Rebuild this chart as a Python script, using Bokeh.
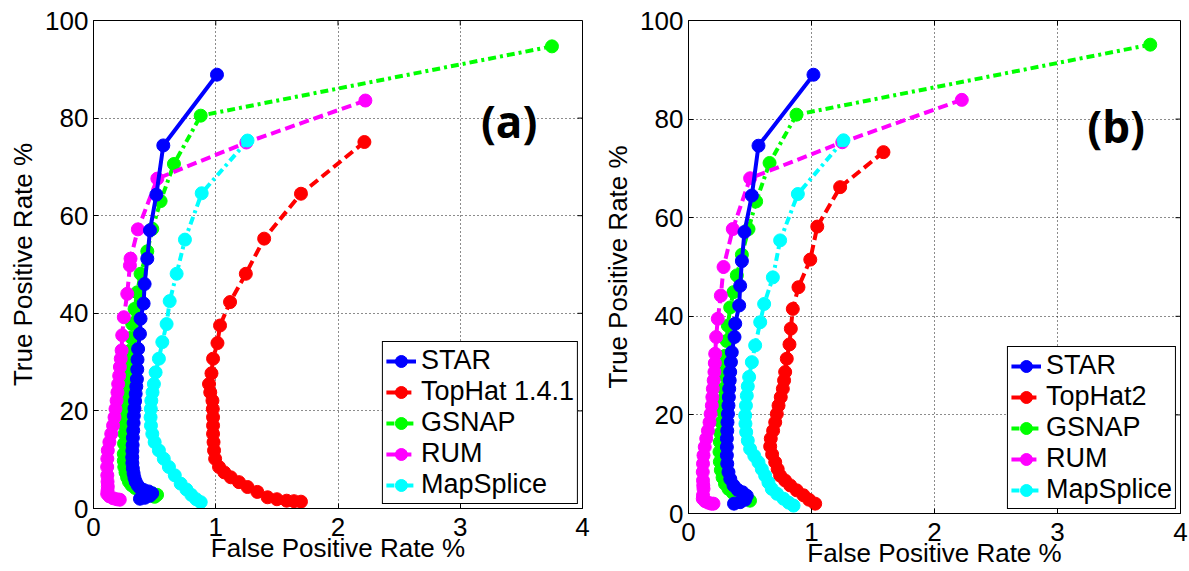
import numpy as np
from bokeh.plotting import figure
from bokeh.models import Label, Legend, LegendItem, FixedTicker, Range1d
from bokeh.layouts import row
from bokeh.embed import file_html
from bokeh.resources import INLINE

# ---------------- data ----------------
x_ticks = [0, 1, 2, 3, 4]
y_ticks = [0, 20, 40, 60, 80, 100]
series_names_a = ["STAR", "TopHat 1.4.1", "GSNAP", "RUM", "MapSplice"]
series_names_b = ["STAR", "TopHat2", "GSNAP", "RUM", "MapSplice"]

# Panel (a)
star_a_x = [1.01, 0.571, 0.514, 0.462, 0.44, 0.418, 0.41, 0.385, 0.38, 0.365, 0.36, 0.358, 0.355, 0.35, 0.345,
            0.34, 0.335, 0.33, 0.328, 0.325, 0.322, 0.32, 0.318, 0.317, 0.318, 0.322, 0.328, 0.335, 0.345, 0.36,
            0.38, 0.41, 0.45, 0.48, 0.46, 0.42, 0.38]
star_a_y = [88.9, 74.4, 64.3, 57.0, 51.2, 46.0, 42.0, 38.9, 35.8, 32.7, 30.5, 28.5, 26.5, 25.0, 23.5,
            22.0, 20.5, 19.0, 17.5, 16.0, 14.5, 13.0, 11.8, 10.5, 9.3, 8.2, 7.2, 6.3, 5.5, 4.8,
            4.2, 3.8, 3.5, 3.1, 2.6, 2.2, 2.0]

tophat_a_x = [2.216, 1.697, 1.396, 1.246, 1.117, 1.035, 1.014, 0.978, 0.965, 0.945, 0.955, 0.973, 0.976, 0.978,
              0.978, 0.978, 0.982, 0.986, 0.995, 1.027, 1.07, 1.123, 1.19, 1.26, 1.34, 1.424, 1.5, 1.58, 1.64, 1.697]
tophat_a_y = [75.1, 64.5, 55.3, 48.1, 42.3, 37.5, 33.9, 30.7, 27.7, 25.5, 23.8, 22.1, 20.4, 18.7,
              17.0, 15.3, 13.6, 11.9, 10.2, 8.5, 7.4, 6.4, 5.4, 4.4, 3.4, 2.3, 1.9, 1.6, 1.5, 1.4]

gsnap_a_x = [3.75, 0.877, 0.658, 0.549, 0.481, 0.44, 0.385, 0.358, 0.336, 0.317, 0.31, 0.303, 0.298, 0.292,
             0.287, 0.281, 0.277, 0.272, 0.268, 0.262, 0.258, 0.254, 0.25, 0.248, 0.248, 0.252, 0.262, 0.275,
             0.29, 0.31, 0.34, 0.38, 0.43, 0.48, 0.52, 0.50]
gsnap_a_y = [94.7, 80.5, 70.6, 63.0, 57.3, 52.7, 48.1, 44.3, 40.9, 37.8, 35.0, 32.4, 30.5, 28.5,
             27.0, 25.5, 24.0, 22.5, 20.5, 18.7, 17.0, 15.3, 13.3, 11.2, 9.8, 8.5, 7.4, 6.4,
             5.5, 4.8, 4.2, 3.7, 3.4, 3.1, 2.8, 2.4]

rum_a_x = [2.224, 1.25, 0.522, 0.363, 0.303, 0.298, 0.276, 0.248, 0.235, 0.23, 0.223, 0.216, 0.21, 0.202,
           0.196, 0.189, 0.18, 0.172, 0.16, 0.145, 0.13, 0.117, 0.113, 0.112, 0.113, 0.115, 0.117, 0.115,
           0.112, 0.13, 0.16, 0.19, 0.215]
rum_a_y = [83.6, 75.0, 67.6, 57.2, 51.2, 49.8, 44.0, 39.2, 35.5, 32.4, 30.7, 29.0, 27.2, 25.5,
           23.8, 22.1, 20.4, 18.7, 17.0, 15.3, 13.6, 11.9, 10.2, 8.5, 6.8, 5.5, 4.5, 3.7,
           3.0, 2.5, 2.1, 1.9, 1.8]

maps_a_x = [1.26, 0.885, 0.748, 0.68, 0.623, 0.598, 0.563, 0.535, 0.508, 0.494, 0.483, 0.473, 0.469, 0.467,
            0.47, 0.481, 0.5, 0.535, 0.575, 0.617, 0.665, 0.713, 0.76, 0.80, 0.84, 0.877]
maps_a_y = [75.4, 64.6, 55.1, 48.1, 42.5, 37.8, 34.1, 30.7, 27.9, 25.5, 23.8, 22.1, 20.4, 18.7,
            17.0, 15.3, 13.6, 11.9, 10.2, 8.5, 6.8, 5.1, 3.9, 2.8, 1.9, 1.3]

# Panel (b)
star_b_x = [1.016, 0.569, 0.515, 0.455, 0.434, 0.42, 0.412, 0.38, 0.374, 0.352, 0.345, 0.339, 0.335, 0.331,
            0.328, 0.325, 0.321, 0.317, 0.315, 0.312, 0.312, 0.312, 0.315, 0.325, 0.34, 0.366, 0.40, 0.44,
            0.474, 0.46, 0.42, 0.37]
star_b_y = [89.0, 74.6, 64.5, 57.1, 51.2, 46.2, 42.2, 38.5, 35.8, 32.7, 30.7, 28.7, 27.0, 25.3,
            23.6, 21.9, 20.2, 18.5, 16.8, 15.2, 13.5, 11.8, 10.1, 8.4, 7.0, 5.7, 4.8, 4.3,
            3.6, 2.8, 2.3, 2.0]

tophat_b_x = [1.585, 1.233, 1.047, 0.99, 0.894, 0.848, 0.832, 0.821, 0.799, 0.786, 0.777, 0.767, 0.75, 0.732,
              0.718, 0.705, 0.688, 0.669, 0.664, 0.68, 0.705, 0.725, 0.745, 0.785, 0.827, 0.88, 0.935, 0.98, 1.03]
tophat_b_y = [73.3, 66.2, 58.2, 51.5, 45.9, 41.5, 37.5, 34.3, 31.4, 28.7, 27.0, 25.3, 23.6, 21.9,
              20.2, 18.5, 16.8, 15.2, 13.6, 12.0, 10.4, 9.0, 7.7, 6.7, 5.7, 4.7, 3.7, 2.8, 2.0]

gsnap_b_x = [3.754, 0.878, 0.659, 0.55, 0.488, 0.434, 0.393, 0.366, 0.339, 0.32, 0.31, 0.298, 0.293, 0.289,
             0.285, 0.278, 0.272, 0.266, 0.26, 0.255, 0.252, 0.255, 0.263, 0.277, 0.297, 0.325, 0.36, 0.405,
             0.455, 0.50]
gsnap_b_y = [95.1, 80.9, 71.1, 63.3, 57.7, 52.5, 48.3, 44.9, 41.8, 38.1, 35.0, 32.0, 30.0, 28.0,
             25.3, 23.0, 20.8, 18.5, 16.3, 14.5, 12.5, 10.5, 8.8, 7.3, 6.0, 5.0, 4.2, 3.5,
             3.0, 2.6]

rum_b_x = [2.222, 1.25, 0.501, 0.36, 0.285, 0.263, 0.238, 0.225, 0.217, 0.214, 0.211, 0.205, 0.198, 0.194,
           0.19, 0.18, 0.171, 0.158, 0.144, 0.132, 0.122, 0.118, 0.116, 0.118, 0.12, 0.122, 0.118, 0.116,
           0.135, 0.16, 0.185, 0.203]
rum_b_y = [83.9, 75.3, 68.0, 57.7, 50.0, 44.2, 39.5, 35.8, 32.4, 30.5, 28.7, 27.0, 25.3, 23.6,
           21.9, 20.2, 18.5, 16.8, 15.2, 13.5, 11.8, 10.1, 8.4, 6.7, 5.7, 5.0, 3.7, 3.0,
           2.5, 2.2, 2.0, 2.0]

maps_b_x = [1.26, 0.889, 0.745, 0.686, 0.615, 0.583, 0.542, 0.515, 0.493, 0.482, 0.474, 0.467, 0.461, 0.463,
            0.469, 0.482, 0.501, 0.535, 0.569, 0.596, 0.623, 0.65, 0.677, 0.72, 0.772, 0.815, 0.854]
maps_b_y = [75.7, 64.8, 55.4, 47.9, 42.5, 38.8, 34.1, 30.7, 27.7, 25.8, 23.9, 21.9, 19.9, 18.2,
            16.5, 14.8, 13.1, 11.7, 10.4, 9.0, 7.7, 6.3, 5.0, 4.0, 3.0, 2.2, 1.6]

colors = ["#0000ff", "#ff0000", "#00ff00", "#ff00ff", "#00ffff"]
dashes = ["solid", "10 5", "8 4 3 4", "10 5", "8 4 3 4"]

FONT = "Liberation Sans"


def make_panel(names, xs, ys, tag, tag_x, tag_y, fw, fh, mb_left, mb_right, mb_top, mb_bottom):
    p = figure(frame_width=fw, frame_height=fh, x_range=Range1d(0, 4), y_range=Range1d(0, 100),
               output_backend="svg", toolbar_location=None,
               min_border_left=mb_left, min_border_right=mb_right,
               min_border_top=mb_top, min_border_bottom=mb_bottom)
    p.outline_line_color = "black"
    p.outline_line_width = 1
    p.outline_line_alpha = 1
    p.background_fill_color = "white"
    p.border_fill_color = "white"

    xt = FixedTicker(ticks=x_ticks)
    yt = FixedTicker(ticks=y_ticks)
    p.xaxis.ticker = xt
    p.yaxis.ticker = yt
    p.xgrid.ticker = xt
    p.ygrid.ticker = yt
    for g in (p.xgrid, p.ygrid):
        g.grid_line_color = "black"
        g.grid_line_dash = "1 3"
        g.grid_line_width = 1
        g.grid_line_alpha = 0.9

    for ax in (p.xaxis, p.yaxis):
        ax.axis_line_color = "black"
        ax.major_tick_line_color = "black"
        ax.major_tick_in = 5
        ax.major_tick_out = 0
        ax.minor_tick_line_color = None
        ax.major_label_text_font = FONT
        ax.major_label_text_font_size = "26px"
        ax.major_label_text_color = "black"
        ax.axis_label_text_font = FONT
        ax.axis_label_text_font_size = "26px"
        ax.axis_label_text_font_style = "normal"
        ax.axis_label_text_color = "black"
    p.xaxis.major_label_standoff = 9
    p.xaxis.axis_label_standoff = -6
    p.yaxis.major_label_standoff = 5
    p.yaxis.axis_label_standoff = 4
    p.xaxis.axis_label = "False Positive Rate %"
    p.yaxis.axis_label = "True Positive Rate %"

    # inside ticks on the top and right frame edges (Matlab box style)
    p.ray(x=[x_ticks[-1]] * len(y_ticks), y=y_ticks, length=5, length_units="screen", angle=np.pi,
          line_color="black", line_width=1)
    p.ray(x=x_ticks, y=[y_ticks[-1]] * len(x_ticks), length=5, length_units="screen", angle=-np.pi / 2,
          line_color="black", line_width=1)

    renderers = {}
    order = [1, 2, 3, 4, 0]
    for i in order:
        ln = p.line(xs[i], ys[i], line_color=colors[i], line_width=4, line_dash=dashes[i])
        sc = p.scatter(xs[i], ys[i], marker="circle", size=13, fill_color=colors[i], line_color=colors[i])
        renderers[i] = [ln, sc]

    items = [LegendItem(label=names[i], renderers=renderers[i]) for i in range(5)]
    leg = Legend(items=items, location="bottom_right", margin=4, padding=3, spacing=0,
                 glyph_width=30, glyph_height=30, label_height=30, label_standoff=5,
                 label_text_font=FONT, label_text_font_size="27px", label_text_color="black",
                 border_line_color="black", border_line_width=1, border_line_alpha=1,
                 background_fill_color="white", background_fill_alpha=1)
    p.add_layout(leg, "center")

    p.add_layout(Label(x=tag_x, y=tag_y, text=tag, text_font="Open Sans", text_font_style="bold",
                       text_font_size="44px", text_align="center", text_baseline="middle",
                       text_color="black"))
    return p


pa = make_panel(series_names_a,
                [star_a_x, tophat_a_x, gsnap_a_x, rum_a_x, maps_a_x],
                [star_a_y, tophat_a_y, gsnap_a_y, rum_a_y, maps_a_y],
                "(a)", 3.40, 79.4, 489, 488, 93, 18, 20, 62)
pb = make_panel(series_names_b,
                [star_b_x, tophat_b_x, gsnap_b_x, rum_b_x, maps_b_x],
                [star_b_y, tophat_b_y, gsnap_b_y, rum_b_y, maps_b_y],
                "(b)", 3.476, 78.7, 492, 493, 85, 11, 15, 62)

layout = row(pa, pb)
open("out.html", "w").write(file_html(layout, INLINE))
